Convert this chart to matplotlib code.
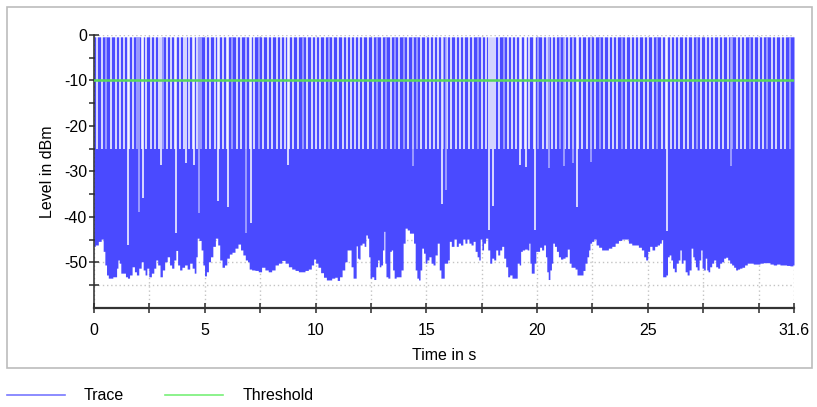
import matplotlib
matplotlib.use("Agg")
import matplotlib.pyplot as plt
from matplotlib.lines import Line2D
from matplotlib.patches import Rectangle

plt.rcParams["font.family"] = ["Liberation Sans", "DejaVu Sans"]
plt.rcParams["axes.unicode_minus"] = False

# ---- data -----------------------------------------------------------------
# lower envelope of the trace (time in s, level in dBm)
env_t = [
    0.00, 0.12, 0.27, 0.38, 0.45, 0.53, 0.60, 0.69, 0.80, 0.90, 0.99, 1.05, 1.11, 1.17,
    1.25, 1.37, 1.47, 1.55, 1.66, 1.78, 1.87, 1.96, 2.08, 2.18, 2.26, 2.35, 2.42, 2.53,
    2.65, 2.75, 2.83, 2.92, 3.04, 3.13, 3.25, 3.36, 3.46, 3.55, 3.66, 3.73, 3.82, 3.91,
    4.03, 4.15, 4.26, 4.38, 4.48, 4.57, 4.63, 4.69, 4.79, 4.88, 4.95, 5.03, 5.12, 5.21,
    5.31, 5.42, 5.54, 5.63, 5.72, 5.84, 5.94, 6.05, 6.17,
    6.29, 6.44, 6.56, 6.67, 6.77, 6.89, 6.97, 7.04, 7.19, 7.34, 7.49, 7.64, 7.79, 7.94,
    8.10, 8.25, 8.40, 8.55, 8.70, 8.85, 9.00, 9.15, 9.30, 9.45, 9.60, 9.75, 9.87, 9.96,
    10.05, 10.17, 10.29, 10.43, 10.55, 10.65, 10.81, 10.93, 11.03, 11.14, 11.26, 11.38,
    11.47, 11.56, 11.65, 11.74, 11.81, 11.86, 11.92, 11.98, 12.04, 12.16, 12.23, 12.31,
    12.37, 12.43, 12.49,
    12.58, 12.68, 12.76, 12.84, 12.91, 12.99, 13.06, 13.11, 13.15, 13.21, 13.32, 13.39,
    13.45, 13.51, 13.59, 13.69, 13.81, 13.91, 14.00, 14.09, 14.19, 14.29, 14.39, 14.46,
    14.54, 14.61, 14.69, 14.75, 14.84, 14.91, 14.99, 15.07, 15.17, 15.26, 15.35, 15.44,
    15.55, 15.62, 15.70, 15.77, 15.85, 15.92, 16.01, 16.07, 16.19, 16.31, 16.40, 16.49,
    16.60, 16.70, 16.79, 16.88, 16.97, 17.07, 17.16, 17.25, 17.34, 17.40, 17.47, 17.55,
    17.62, 17.73, 17.82, 17.91, 18.00, 18.09, 18.18, 18.27, 18.36, 18.45, 18.54, 18.63,
    18.72, 18.81,
    18.93, 19.05, 19.16, 19.23, 19.29, 19.38, 19.50, 19.61, 19.65, 19.71, 19.77, 19.83,
    19.91, 19.98, 20.07, 20.16, 20.25, 20.35, 20.41, 20.47, 20.54, 20.62, 20.68, 20.74,
    20.83, 20.92, 21.01, 21.11, 21.22, 21.31, 21.42, 21.49, 21.58, 21.67, 21.76, 21.85,
    21.94, 22.03, 22.12, 22.21, 22.30, 22.36, 22.42, 22.51, 22.61, 22.72, 22.84, 22.99,
    23.14, 23.30, 23.45, 23.60, 23.75, 23.90, 24.05, 24.20, 24.35, 24.50, 24.65, 24.77,
    24.86, 24.95, 25.04,
    25.13, 25.25, 25.37, 25.48, 25.58, 25.64, 25.70, 25.79, 25.85, 25.93, 26.00, 26.08,
    26.15, 26.24, 26.33, 26.42, 26.48, 26.54, 26.64, 26.73, 26.82, 26.91, 27.00, 27.06,
    27.12, 27.18, 27.27, 27.36, 27.42, 27.48, 27.56, 27.63, 27.69, 27.75, 27.84, 27.93,
    28.02, 28.11, 28.20, 28.29, 28.38, 28.47, 28.56, 28.65, 28.74, 28.83, 28.92, 29.01,
    29.10, 29.19, 29.31, 29.43, 29.55, 29.68, 29.84, 29.99, 30.14, 30.29, 30.44, 30.59,
    30.74, 30.89, 31.04, 31.19, 31.34, 31.49, 31.60,
]
env_db = [
    -46.5, -46.2, -45.4, -44.9, -47.6, -50.6, -52.8, -53.5, -53.5, -53.2, -53.2, -51.3, -49.5, -50.2,
    -52.4, -52.4, -53.2, -53.5, -52.8, -51.0, -52.1, -52.8, -51.3, -49.9, -51.7, -52.8, -51.3, -53.2,
    -52.4, -51.3, -49.5, -50.6, -53.2, -51.7, -49.9, -48.8, -50.6, -51.3, -49.5, -47.4, -50.6, -51.7,
    -51.1, -50.6, -51.5, -50.2, -51.3, -52.4, -48.8, -44.7, -45.2, -47.3, -50.6, -53.0, -52.1, -49.9,
    -48.8, -46.5, -44.7, -46.2, -49.5, -51.1, -50.6, -49.1, -48.2,
    -47.8, -46.9, -46.0, -47.3, -48.4, -49.5, -49.9, -51.5, -51.7, -51.8, -52.1, -51.1, -51.7, -52.1,
    -51.7, -50.6, -50.2, -49.6, -50.2, -51.0, -51.5, -51.8, -52.1, -52.1, -51.8, -51.5, -50.6, -49.3,
    -50.2, -51.1, -52.3, -53.3, -53.9, -53.9, -53.5, -53.3, -54.0, -53.2, -51.7, -49.9,
    -47.3, -47.3, -51.0, -53.5, -53.5, -46.4, -49.1, -49.3, -46.2, -45.8, -46.5, -44.0,
    -44.7, -48.8, -53.5,
    -53.2, -53.8, -51.0, -49.5, -51.0, -50.6, -47.3, -43.2, -50.2, -53.2, -53.5, -47.6,
    -47.3, -51.7, -53.5, -53.2, -53.2, -51.7, -45.8, -42.5, -42.9, -43.6, -43.6, -45.8,
    -51.7, -53.5, -53.9, -51.7, -46.9, -48.0, -50.2, -49.5, -48.8, -50.2, -50.6, -48.4,
    -45.8, -51.7, -53.5, -53.5, -50.2, -50.2, -49.5, -45.4, -46.5, -44.9, -46.5, -45.8,
    -46.2, -44.9, -45.8, -44.9, -45.8, -46.2, -45.4, -47.6, -48.8, -49.5, -44.9, -47.3,
    -45.8, -44.7, -47.3, -50.2, -49.1, -49.5, -47.3, -48.4, -47.3, -46.5, -49.1, -51.0,
    -53.2, -52.8,
    -53.5, -53.5, -50.2, -50.6, -47.6, -47.3, -47.1, -47.3, -45.8, -50.2, -52.4, -52.4,
    -50.2, -47.6, -47.6, -46.7, -47.3, -46.2, -48.8, -52.1, -53.8, -51.7, -50.2, -45.8,
    -46.5, -47.6, -48.8, -49.3, -49.1, -48.8, -47.1, -50.2, -51.1, -51.1, -51.5, -52.8,
    -52.8, -52.8, -51.8, -50.2, -48.8, -47.3, -45.8, -45.4, -44.9, -46.2, -46.7, -47.3,
    -47.3, -46.9, -46.5, -45.8, -45.2, -44.9, -44.9, -45.8, -46.2, -46.2, -46.7, -47.3,
    -48.8, -49.5, -47.6,
    -46.5, -47.3, -46.5, -46.2, -45.8, -45.0, -53.2, -53.2, -52.8, -48.8, -48.4, -49.5,
    -51.3, -52.1, -50.2, -49.5, -47.3, -50.2, -49.5, -52.1, -52.8, -51.7, -46.9, -48.8,
    -49.5, -51.0, -51.7, -49.5, -47.3, -51.3, -51.7, -49.1, -51.7, -52.1, -51.0, -50.2,
    -49.5, -51.0, -51.3, -50.2, -49.9, -49.1, -48.9, -49.5, -50.2, -50.6, -51.1, -51.7,
    -51.5, -51.3, -51.1, -50.6, -50.2, -50.2, -50.4, -50.4, -50.2, -50.1, -50.1, -50.4,
    -50.6, -50.4, -50.6, -50.6, -50.7, -50.8, -50.6,
]

burst_peak = -0.4    # level reached by the bursts (dBm)
floor_top = -25.0    # upper edge of the noise band between bursts (dBm)
threshold = -10.0    # threshold level (dBm)

# times (s) between bursts where the trace stays in the noise band
gap_times = [
    0.15, 0.35, 0.54, 0.75, 0.98, 1.17, 1.37, 1.57, 1.75, 1.94, 2.15, 2.35, 2.56, 2.74,
    2.92, 3.10, 3.28, 3.46, 3.67, 3.88, 4.08, 4.27, 4.45, 4.65, 4.85, 5.04, 5.25, 5.46,
    5.64, 5.82, 6.02, 6.22, 6.44, 6.64, 6.86, 7.04, 7.24, 7.46, 7.65, 7.84, 8.05, 8.25,
    8.43, 8.62, 8.82, 9.00, 9.20, 9.42, 9.63, 9.83, 10.02, 10.20, 10.43, 10.62, 10.81,
    11.03, 11.23, 11.41, 11.59, 11.78, 11.98, 12.16, 12.36, 12.58, 12.79, 12.99, 13.18,
    13.39, 13.59, 13.78, 13.99, 14.19, 14.39, 14.57, 14.76, 14.97, 15.17, 15.36, 15.55,
    15.74, 15.92, 16.12, 16.33, 16.52, 16.72, 16.93, 17.12, 17.32, 17.52, 17.70, 17.91,
    18.10, 18.30, 18.51, 18.71, 18.88, 19.05, 19.26, 19.46, 19.65, 19.86, 20.06, 20.26,
    20.47, 20.66, 20.86, 21.04, 21.24, 21.44, 21.64, 21.84, 22.03, 22.24, 22.44, 22.63,
    22.85, 23.04, 23.24, 23.45, 23.63, 23.84, 24.03, 24.23, 24.42, 24.62, 24.83, 25.03,
    25.22, 25.43, 25.63, 25.82, 26.03, 26.23, 26.42, 26.64, 26.83, 27.03, 27.21, 27.41,
    27.61, 27.81, 28.01, 28.20, 28.41, 28.61, 28.80, 29.01, 29.21, 29.41, 29.62, 29.81,
    30.01, 30.21, 30.40, 30.61, 30.81, 31.01, 31.20, 31.40,
]
# gaps that are only partly open
faint_gap_times = [
    0.54, 1.94, 3.10, 4.85, 6.22, 7.46, 9.42, 10.62, 12.79, 13.18, 13.59, 13.99, 14.57,
    15.74, 17.32, 18.51, 20.06, 21.04, 22.85, 23.84, 25.43, 27.21, 28.80, 29.62, 30.40,
    31.40,
]
# gaps reaching deeper into the noise band: time (s), lowest level (dBm)
deep_gap_t = [1.55, 2.23, 3.02, 3.70, 4.14, 4.53, 5.61, 6.04, 7.08, 8.77, 15.69,
              17.85, 18.03, 19.24, 19.51, 19.93, 21.82, 25.88]
deep_gap_db = [-46.3, -35.8, -28.5, -43.5, -28.2, -28.5, -36.5, -37.8, -41.3, -28.5, -37.1,
               -42.8, -37.6, -28.7, -29.0, -43.0, -37.8, -43.2]
faint_deep_t = [2.05, 4.75, 6.88, 14.38, 15.87, 20.56, 21.23, 21.64, 22.42, 28.74]
faint_deep_db = [-39.0, -39.1, -43.5, -28.9, -34.0, -29.3, -28.9, -28.2, -28.0, -28.9]

x_major = [0, 5, 10, 15, 20, 25, 31.6]
x_major_labels = ["0", "5", "10", "15", "20", "25", "31.6"]
x_minor = [2.5, 7.5, 12.5, 17.5, 22.5, 27.5, 30]
y_major = [-50, -40, -30, -20, -10, 0]
y_major_labels = ["-50", "-40", "-30", "-20", "-10", "0"]
y_minor = [-55, -45, -35, -25, -15, -5]

# ---- style ----------------------------------------------------------------
TRACE = "#4a4aff"
TRACE_FAINT = "#b0b0ff"
THRESH = "#58d858"
AXIS_C = "#2a2a2a"
GRID_C = "#c4c4c4"
FS = 11.5
GAP_LW = 1.1

W, H = 817, 407
fig = plt.figure(figsize=(W / 100, H / 100), dpi=100)
fig.patch.set_facecolor("white")

# outer panel frame
fig.add_artist(Rectangle((7 / W, 1 - 368 / H), 805 / W, 361 / H, transform=fig.transFigure,
                         fill=False, edgecolor="#bcbcbc", linewidth=1.2))

ax = fig.add_axes([94 / W, 1 - 307.7 / H, 700 / W, 272.7 / H])
ax.set_xlim(0, 31.6)
ax.set_ylim(-60, 0)
ax.set_facecolor("white")
ax.set_axisbelow(True)

# trace: filled body between lower envelope and burst peaks
ax.fill_between(env_t, env_db, burst_peak, step="mid", color=TRACE, linewidth=0, zorder=2)

faint_set = set(faint_gap_times)
full_gaps = [t for t in gap_times if t not in faint_set]
ax.vlines(full_gaps, floor_top, burst_peak, colors="white", linewidth=GAP_LW, zorder=3)
ax.vlines(faint_gap_times, floor_top, burst_peak, colors=TRACE_FAINT, linewidth=GAP_LW, zorder=3)
ax.vlines(deep_gap_t, deep_gap_db, burst_peak, colors="white", linewidth=GAP_LW, zorder=3)
ax.vlines(faint_deep_t, faint_deep_db, burst_peak, colors=TRACE_FAINT, linewidth=GAP_LW, zorder=3)

ax.axhline(threshold, color=THRESH, linewidth=1.8, zorder=4)

# axes, ticks and grid
for s in ("top", "right"):
    ax.spines[s].set_visible(False)
ax.spines["left"].set_color(AXIS_C)
ax.spines["left"].set_linewidth(1.1)
ax.spines["bottom"].set_color("#333333")
ax.spines["bottom"].set_linewidth(1.6)

ax.set_xticks(x_major, x_major_labels)
ax.set_xticks(x_minor, minor=True)
ax.set_yticks(y_major, y_major_labels)
ax.set_yticks(y_minor, minor=True)
ax.tick_params(which="both", direction="inout", length=7.2, width=1.1, color=AXIS_C,
               labelsize=FS, labelcolor="black")
ax.tick_params(axis="x", which="both", pad=7.5)
ax.tick_params(axis="y", which="both", pad=1.5)
ax.grid(which="both", color=GRID_C, linestyle=(0, (1, 2)), linewidth=1.0)

ax.set_xlabel("Time in s", fontsize=FS, va="center")
ax.xaxis.set_label_coords(0.5, (307.7 - 355) / 272.7)
ax.set_ylabel("Level in dBm", fontsize=FS, va="center", ha="center")
ax.yaxis.set_label_coords((48 - 94) / 700, 0.5)

# legend row below the panel
ly = 1 - 395 / H
fig.add_artist(Line2D([7 / W, 65 / W], [ly, ly], transform=fig.transFigure,
                      color="#7878ff", linewidth=1.2))
fig.text(84 / W, ly, "Trace", fontsize=FS, va="center", ha="left")
fig.add_artist(Line2D([165 / W, 223 / W], [ly, ly], transform=fig.transFigure,
                      color="#78f078", linewidth=1.2))
fig.text(243 / W, ly, "Threshold", fontsize=FS, va="center", ha="left")

fig.savefig("out.png", dpi=100)
